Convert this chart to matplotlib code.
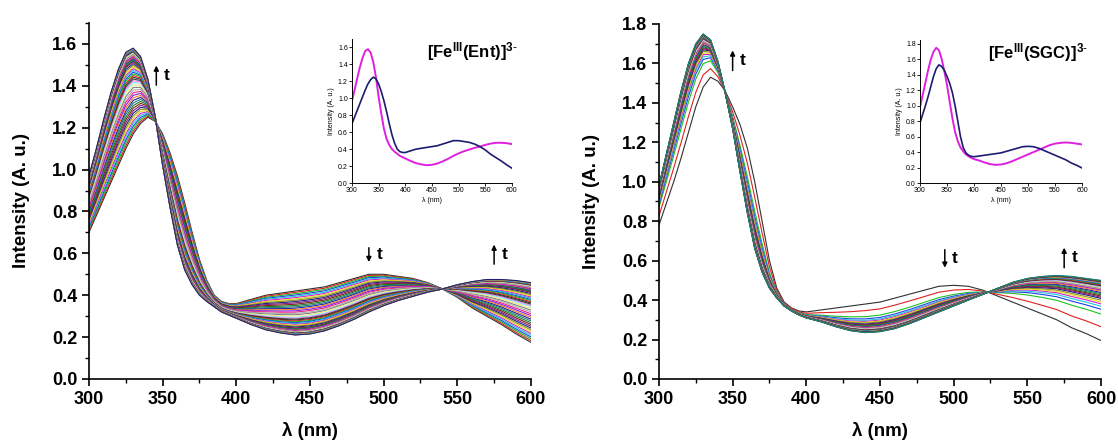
import numpy as np
import matplotlib
matplotlib.use("Agg")
import matplotlib.pyplot as plt
from matplotlib.ticker import MultipleLocator

plt.rcParams['font.family'] = ['Liberation Sans', 'DejaVu Sans']
plt.rcParams['mathtext.fontset'] = 'custom'
plt.rcParams['mathtext.bf'] = 'Liberation Sans:bold'
plt.rcParams['mathtext.rm'] = 'Liberation Sans'

# wavelength grid (nm)
wl = [300, 305, 310, 315, 320, 325, 330, 335, 340, 345, 350, 355, 360, 365, 370, 375, 380,
      385, 390, 395, 400, 410, 420, 430, 440, 450, 460, 470, 480, 490, 500, 510, 520, 530,
      540, 550, 560, 570, 580, 590, 600]

# [Fe(III)(Ent)]3- : first and last spectra
ent_start = [0.70, 0.78, 0.86, 0.94, 1.02, 1.10, 1.17, 1.22, 1.25, 1.23, 1.17, 1.08, 0.97,
             0.84, 0.70, 0.57, 0.47, 0.40, 0.37, 0.36, 0.36, 0.38, 0.40, 0.41, 0.42, 0.43,
             0.44, 0.46, 0.48, 0.50, 0.50, 0.49, 0.48, 0.46, 0.43, 0.39, 0.34, 0.30, 0.26,
             0.215, 0.175]
ent_end = [0.97, 1.10, 1.24, 1.37, 1.48, 1.56, 1.58, 1.54, 1.43, 1.25, 1.02, 0.82, 0.64,
           0.52, 0.45, 0.40, 0.37, 0.345, 0.32, 0.305, 0.29, 0.26, 0.235, 0.22, 0.21, 0.215,
           0.23, 0.255, 0.285, 0.32, 0.35, 0.375, 0.395, 0.415, 0.43, 0.45, 0.465, 0.475,
           0.475, 0.47, 0.46]
# fraction converted for each recorded spectrum
ent_frac = [0.0, 0.03, 0.06, 0.09, 0.12, 0.15, 0.18, 0.21, 0.24, 0.27, 0.30, 0.33, 0.36, 0.39,
            0.42, 0.45, 0.48, 0.51, 0.54, 0.57, 0.60, 0.62, 0.64, 0.66, 0.68, 0.70, 0.72, 0.74,
            0.76, 0.78, 0.80, 0.82, 0.84, 0.85, 0.86, 0.87, 0.88, 0.89, 0.90, 0.91, 0.92, 0.93,
            0.94, 0.95, 0.955, 0.96, 0.965, 0.97, 0.975, 0.98, 0.985, 0.99, 0.993, 0.996, 1.0]

# [Fe(III)(SGC)]3- : first and last spectra
sgc_start = [0.78, 0.89, 1.00, 1.12, 1.25, 1.38, 1.48, 1.53, 1.51, 1.46, 1.38, 1.29, 1.17,
             1.00, 0.80, 0.60, 0.46, 0.39, 0.36, 0.345, 0.34, 0.35, 0.36, 0.37, 0.38, 0.39,
             0.41, 0.43, 0.45, 0.47, 0.475, 0.47, 0.45, 0.42, 0.39, 0.36, 0.33, 0.30, 0.26,
             0.23, 0.195]
sgc_end = [0.98, 1.14, 1.30, 1.46, 1.60, 1.70, 1.75, 1.72, 1.61, 1.45, 1.27, 1.05, 0.84,
           0.66, 0.54, 0.46, 0.41, 0.37, 0.345, 0.325, 0.31, 0.29, 0.265, 0.245, 0.235, 0.24,
           0.255, 0.28, 0.31, 0.34, 0.37, 0.40, 0.43, 0.46, 0.49, 0.51, 0.52, 0.525, 0.52,
           0.51, 0.50]
sgc_frac = [0.0, 0.23, 0.44, 0.52, 0.57, 0.61, 0.64, 0.67, 0.70, 0.72, 0.74, 0.76, 0.78, 0.80,
            0.82, 0.84, 0.85, 0.86, 0.87, 0.88, 0.89, 0.90, 0.91, 0.92, 0.93, 0.94, 0.95, 0.96,
            0.965, 0.97, 0.975, 0.98, 0.985, 0.99, 0.995, 1.0]

# Origin-like colour cycle
origin_colors = ['#303030', '#e02020', '#20c020', '#2040e0', '#20c8d8', '#d020d0', '#e8d820',
                 '#909020', '#202080', '#802080', '#802020', '#208020', '#208080', '#2020a0',
                 '#f08020', '#8020f0', '#f02080', '#b0b0b0', '#808080', '#f0e880', '#80e8f0',
                 '#f080f0', '#404040']


def draw_panel(ax, start, end, frac, ymax, ystep):
    s = np.array(start)
    e = np.array(end)
    for i, f in enumerate(frac):
        ax.plot(wl, (1 - f) * s + f * e, color=origin_colors[i % len(origin_colors)], lw=0.8)
    ax.set_xlim(300, 600)
    ax.set_ylim(0, ymax)
    ax.xaxis.set_major_locator(MultipleLocator(50))
    ax.xaxis.set_minor_locator(MultipleLocator(25))
    ax.yaxis.set_major_locator(MultipleLocator(ystep))
    ax.yaxis.set_minor_locator(MultipleLocator(ystep / 2))
    for sp in ['top', 'right']:
        ax.spines[sp].set_visible(False)
    for sp in ['left', 'bottom']:
        ax.spines[sp].set_linewidth(1.2)
    ax.tick_params(which='major', direction='out', length=5, width=1.2, labelsize=13)
    ax.tick_params(which='minor', direction='out', length=3, width=1.0)
    for lab in ax.get_xticklabels() + ax.get_yticklabels():
        lab.set_fontweight('bold')
    ax.set_xlabel('λ (nm)', fontsize=13.5, fontweight='bold', labelpad=10)
    ax.set_ylabel('Intensity (A. u.)', fontsize=13.5, fontweight='bold', labelpad=16)


def arrow(ax, x, y0, y1):
    ax.annotate('', xy=(x, y1), xytext=(x, y0),
                arrowprops=dict(arrowstyle='-|>', color='black', lw=1.1, mutation_scale=7))
    ax.text(x + 5, (y0 + y1) / 2, 't', fontsize=12.5, fontweight='bold', va='center', ha='left')


def draw_inset(ax, start, end, ymax, ystep):
    ax.plot(wl, end, color='#e020e0', lw=1.4)
    ax.plot(wl, start, color='#1c1c70', lw=1.2)
    ax.set_xlim(300, 600)
    ax.set_ylim(0, ymax)
    ax.xaxis.set_major_locator(MultipleLocator(50))
    ax.yaxis.set_major_locator(MultipleLocator(0.2))
    for sp in ['top', 'right']:
        ax.spines[sp].set_visible(False)
    for sp in ['left', 'bottom']:
        ax.spines[sp].set_linewidth(0.7)
    ax.tick_params(direction='out', length=2, width=0.6, labelsize=5, pad=1)
    ax.set_xlabel('λ (nm)', fontsize=5, labelpad=2)
    ax.set_ylabel('Intensity (A. u.)', fontsize=5, labelpad=2)
    ax.patch.set_alpha(0)


fig = plt.figure(figsize=(11.18, 4.41), dpi=100)

ax1 = fig.add_axes([0.0796, 0.1406, 0.3953, 0.8073])
draw_panel(ax1, ent_start, ent_end, ent_frac, 1.7, 0.2)
arrow(ax1, 345.7, 1.39, 1.51)
arrow(ax1, 490, 0.64, 0.545)
arrow(ax1, 575, 0.535, 0.655)

ax2 = fig.add_axes([0.5894, 0.1406, 0.3954, 0.8050])
draw_panel(ax2, sgc_start, sgc_end, sgc_frac, 1.8, 0.2)
arrow(ax2, 350, 1.55, 1.68)
arrow(ax2, 494, 0.67, 0.55)
arrow(ax2, 575, 0.55, 0.68)

in1 = fig.add_axes([0.3148, 0.585, 0.1431, 0.3265])
draw_inset(in1, ent_start, ent_end, 1.7, 0.2)
in2 = fig.add_axes([0.8229, 0.585, 0.1449, 0.324])
draw_inset(in2, sgc_start, sgc_end, 1.85, 0.2)

fig.text(0.382, 0.882, r'$\mathbf{[Fe^{III}(Ent)]^{3\text{-}}}$', fontsize=12, ha='left', va='center')
fig.text(0.884, 0.880, r'$\mathbf{[Fe^{III}(SGC)]^{3\text{-}}}$', fontsize=12, ha='left', va='center')

fig.savefig('out.png', dpi=100)
